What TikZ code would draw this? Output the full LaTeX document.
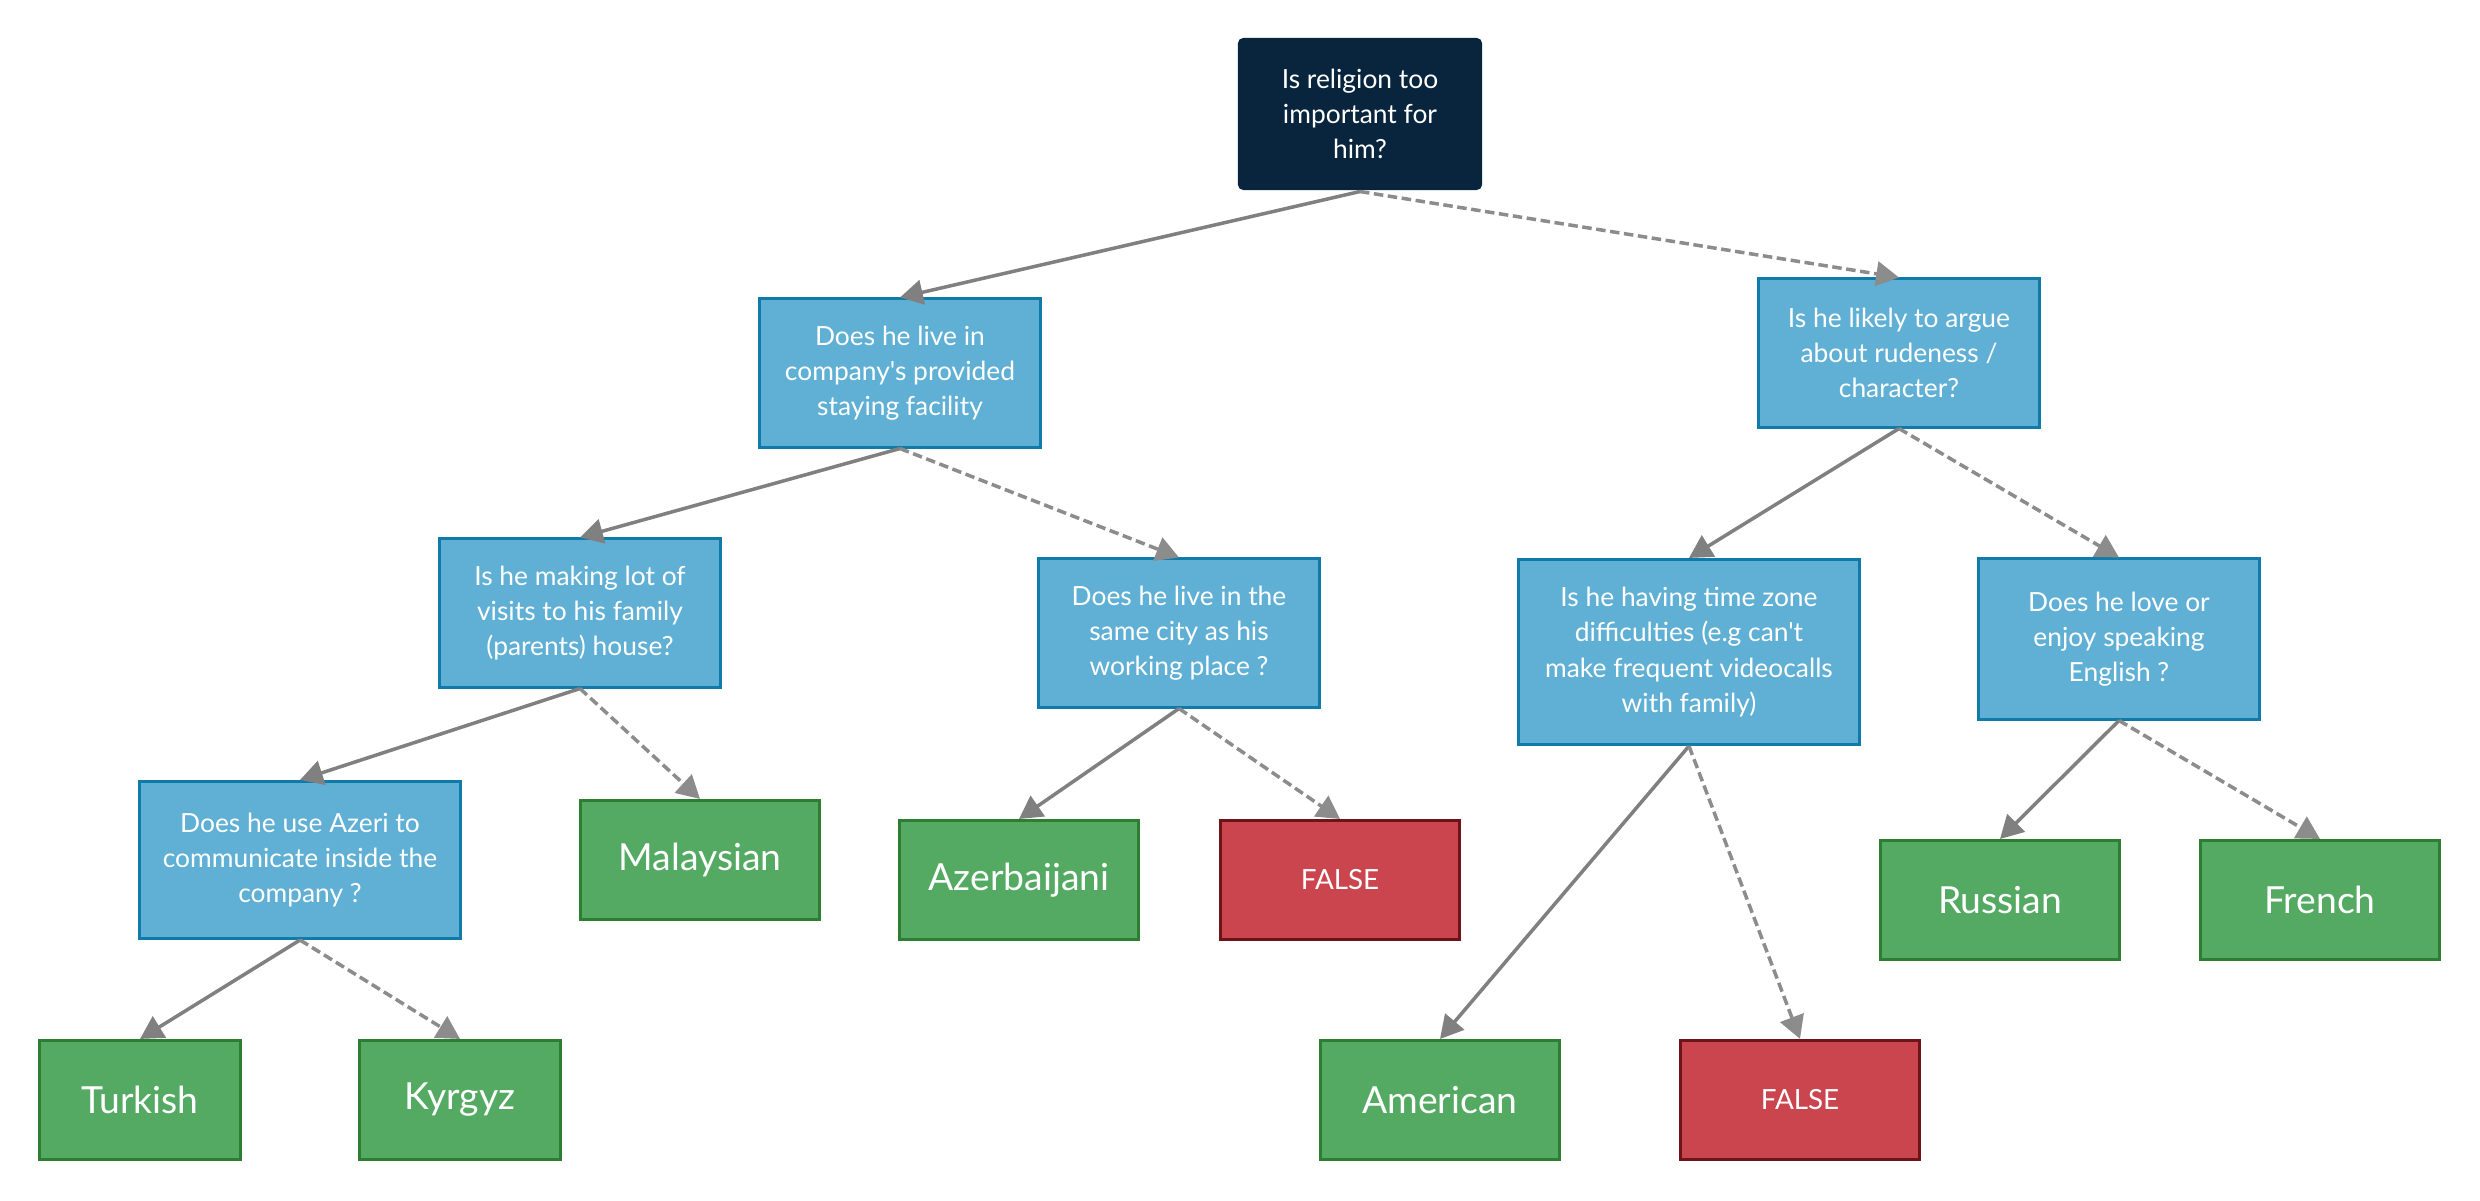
\documentclass[tikz,border=0pt]{standalone}
\usepackage{fontspec}
\setmainfont{Lato}[Ligatures=TeXOff]
\usetikzlibrary{arrows.meta}
\definecolor{rootfill}{RGB}{8,37,61}
\definecolor{qfill}{RGB}{96,176,213}
\definecolor{qborder}{RGB}{16,122,168}
\definecolor{lfill}{RGB}{84,170,98}
\definecolor{lborder}{RGB}{46,125,50}
\definecolor{nfill}{RGB}{203,69,79}
\definecolor{nborder}{RGB}{107,20,25}
\definecolor{arrowgray}{RGB}{128,128,128}
\definecolor{dashgray}{RGB}{140,140,140}
\begin{document}
\begin{tikzpicture}[x=0.01cm,y=-0.01cm,
  box/.style={rectangle, inner sep=0pt, align=center, text=white, line width=0.85pt},
  rootbox/.style={box, fill=rootfill, rounded corners=1.5pt, minimum width=2.44cm, minimum height=1.52cm, font=\fontsize{7.5}{10}\selectfont},
  qbox/.style={box, fill=qfill, draw=qborder, minimum width=2.80cm, minimum height=1.48cm, font=\fontsize{7.5}{10}\selectfont},
  leaf/.style={box, fill=lfill, draw=lborder, minimum width=2.39cm, minimum height=1.19cm, font=\fontsize{10.6}{12}\selectfont},
  nbox/.style={box, fill=nfill, draw=nborder, minimum width=2.39cm, minimum height=1.19cm, font=\fontsize{7.9}{9}\selectfont},
  yes/.style={draw=arrowgray, line width=1pt, -{Triangle[length=6.5pt,width=7pt]}},
  no/.style={draw=dashgray, line width=1pt, dash pattern=on 2.7pt off 1.3pt, -{Triangle[length=6.5pt,width=7pt]}}
]
\useasboundingbox (0,0) rectangle (2480,1201);

\node[rootbox] (root) at (1360,114) {Is religion too\\important for\\him?};
\node[qbox] (q1) at (900,373) {Does he live in\\company's provided\\staying facility};
\node[qbox] (q2) at (1899,353) {Is he likely to argue\\about rudeness /\\character?};
\node[qbox] (q3) at (580,613) {Is he making lot of\\visits to his family\\(parents) house?};
\node[qbox] (q4) at (1179,633) {Does he live in the\\same city as his\\working place ?};
\node[qbox, minimum width=3.40cm, minimum height=1.85cm] (q5) at (1689,652) {Is he having time zone\\difficulties (e.g can't\\make frequent videocalls\\with family)};
\node[qbox, minimum height=1.60cm] (q6) at (2119,639) {Does he love or\\enjoy speaking\\English ?};
\node[qbox, minimum width=3.20cm, minimum height=1.57cm] (q7) at (300,860) {Does he use Azeri to\\communicate inside the\\company ?};

\node[leaf] (malay) at (700,860) {Malaysian};
\node[leaf] (azer) at (1019,880) {Azerbaijani};
\node[nbox] (f1) at (1340,880) {FALSE};
\node[leaf] (rus) at (2000,900) {Russian};
\node[leaf] (fre) at (2320,900) {French};
\node[leaf, minimum width=2.00cm] (tur) at (140,1100) {Turkish};
\node[leaf, minimum width=2.00cm] (kyr) at (460,1100) {Kyrgyz};
\node[leaf] (ame) at (1440,1100) {American};
\node[nbox] (f2) at (1800,1100) {FALSE};

\draw[yes] (root.south) -- (q1.north);
\draw[no] (root.south) -- (q2.north);
\draw[yes] (q1.south) -- (q3.north);
\draw[no] (q1.south) -- (q4.north);
\draw[yes] (q2.south) -- (q5.north);
\draw[no] (q2.south) -- (q6.north);
\draw[yes] (q3.south) -- (q7.north);
\draw[no] (q3.south) -- (malay.north);
\draw[yes] (q4.south) -- (azer.north);
\draw[no] (q4.south) -- (f1.north);
\draw[yes] (q5.south) -- (ame.north);
\draw[no] (q5.south) -- (f2.north);
\draw[yes] (q6.south) -- (rus.north);
\draw[no] (q6.south) -- (fre.north);
\draw[yes] (q7.south) -- (tur.north);
\draw[no] (q7.south) -- (kyr.north);
\end{tikzpicture}
\end{document}
